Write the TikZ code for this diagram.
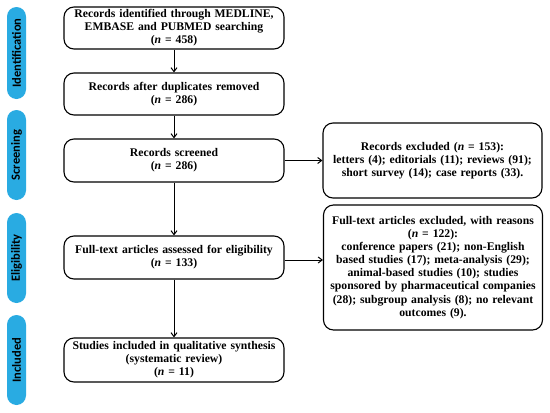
\documentclass[tikz,border=0pt]{standalone}
\usepackage{fontspec}
\setmainfont{Liberation Serif}
\newfontfamily\bandfont{Carlito}
\usetikzlibrary{arrows.meta,calc}
\definecolor{bandblue}{RGB}{41,171,226}
\tikzset{
  box/.style={draw=black, line width=1.1pt, rounded corners=10pt, align=center,
    font=\bfseries\fontsize{11.7}{13.1}\selectfont, inner sep=0pt},
  mainbox/.style={box, minimum width=220pt, text width=218pt},
  sidebox/.style={box, minimum width=219pt, text width=218pt},
  band/.style={fill=bandblue, rounded corners=9.5pt, minimum height=19pt, inner sep=0pt,
    font=\bandfont\bfseries\fontsize{12.5}{14}\selectfont, text=black, rotate=90},
  arr/.style={-{Straight Barb[length=4pt,width=6pt]}, line width=1pt}
}
\begin{document}
\begin{tikzpicture}[x=1pt,y=-1pt]
\useasboundingbox (0,0) rectangle (550,413);
% bands
\node[band, minimum width=92pt] (bid) at (16.5,53) {Identification};
\node[band, minimum width=90pt] (bsc) at (16.5,155) {Screening};
\node[band, minimum width=90pt] (bel) at (16.5,258) {Eligibility};
\node[band, minimum width=90pt] (bin) at (16.5,360) {Included};
% main boxes
\node[mainbox, minimum height=42pt] (b1) at (174,28) {Records identified through MEDLINE,\\EMBASE and PUBMED searching\\(\textit{n} = 458)};
\node[mainbox, minimum height=42pt] (b2) at (174,94) {Records after duplicates removed\\(\textit{n} = 286)};
\node[mainbox, minimum height=43pt] (b3) at (174,160.5) {Records screened\\(\textit{n} = 286)};
\node[mainbox, minimum height=43pt] (b4) at (174,257.5) {Full-text articles assessed for eligibility\\(\textit{n} = 133)};
\node[mainbox, minimum height=44pt] (b5) at (174,360) {Studies included in qualitative synthesis\\(systematic review)\\(\textit{n} = 11)};
% side boxes
\node[sidebox, minimum height=75pt] (r1) at (432.5,160.5) {Records excluded (\textit{n} = 153):\\letters (4); editorials (11); reviews (91);\\short survey (14); case reports (33).};
\node[sidebox, minimum height=125pt] (r2) at (433,267.5) {Full-text articles excluded, with reasons\\(\textit{n} = 122):\\conference papers (21); non-English\\based studies (17); meta-analysis (29);\\animal-based studies (10); studies\\sponsored by pharmaceutical companies\\(28); subgroup analysis (8); no relevant\\outcomes (9).};
% arrows
\draw[arr] (b1) -- (b2);
\draw[arr] (b2) -- (b3);
\draw[arr] (b3) -- (b4);
\draw[arr] (b4) -- (b5);
\draw[arr] (b3.east) -- (r1.west |- b3.east);
\draw[arr] ($(b4.east)+(0,2.5)$) -- (r2.west |- {$(b4.east)+(0,2.5)$});
\end{tikzpicture}
\end{document}
